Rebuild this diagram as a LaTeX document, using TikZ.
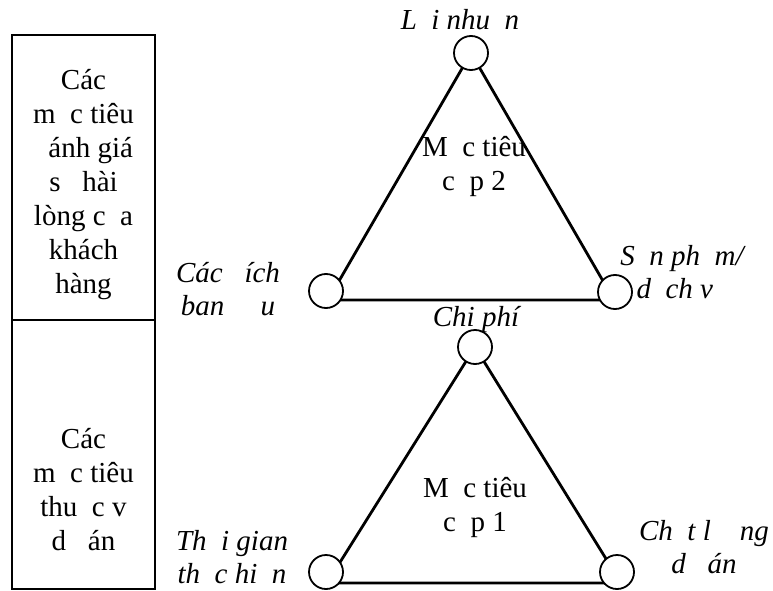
\documentclass[tikz,border=0pt]{standalone}
\usepackage{fontspec}
\setmainfont{Liberation Serif}
\usetikzlibrary{positioning}
\newcommand{\vngap}{\hspace*{0.5em}}

\begin{document}
\begin{tikzpicture}[x=1pt, y=-1pt,
    every node/.style={font=\fontsize{29}{34}\selectfont, align=center, inner sep=0pt},
    ring/.style={circle, draw, fill=white, minimum size=34pt, line width=1.8pt},
    side/.style={line width=2.8pt},
    lbl/.style={font=\fontsize{29}{33}\selectfont\itshape}]
    \useasboundingbox (0,0) rectangle (773,591);

    % Left column
    \draw[line width=2pt] (12,35) rectangle (155,589);
    \draw[line width=2pt] (12,320) -- (155,320);
    \node (satisfy) at (83.5,185) {Các\\m\vngap c tiêu\\\vngap ánh giá\\s\vngap{} hài\\lòng c\vngap a\\khách\\hàng};
    \node (project) at (83.5,490) {Các\\m\vngap c tiêu\\thu\vngap c v\vngap\\d\vngap{} án};

    % Upper triangle
    \coordinate (up1) at (471,53);
    \coordinate (up2) at (328,300);
    \coordinate (up3) at (614,300);
    \draw[side] (up1) -- (up2) -- (up3) -- cycle;
    \node[ring] (profit) at (471,53) {};
    \node[ring] (goal) at (326,291) {};
    \node[ring] (product) at (615,292) {};
    \node[lbl] (profitlbl) at (460,20) {L\vngap i nhu\vngap n};
    \node[lbl] (goallbl) at (228,289) {Các \vngap ích\\ban \vngap\vngap u};
    \node[lbl] (productlbl) at (682,272) {S\vngap n ph\vngap m/\\d\vngap ch v\vngap};
    \node (level2) at (474,166) {M\vngap c tiêu\\c\vngap p 2};

    % Lower triangle
    \coordinate (lo1) at (475,347);
    \coordinate (lo2) at (327,583);
    \coordinate (lo3) at (621,583);
    \draw[side] (lo1) -- (lo2) -- (lo3) -- cycle;
    \node[ring] (cost) at (475,347) {};
    \node[ring] (time) at (326,572) {};
    \node[ring] (quality) at (617,572) {};
    \node[lbl] (costlbl) at (476,320) {Chi phí};
    \node[lbl] (timelbl) at (232,557) {Th\vngap i gian\\th\vngap c hi\vngap n};
    \node[lbl] (qualitylbl) at (704,547) {Ch\vngap t l\vngap\vngap ng\\d\vngap{} án};
    \node (level1) at (475,507) {M\vngap c tiêu\\c\vngap p 1};
\end{tikzpicture}
\end{document}
